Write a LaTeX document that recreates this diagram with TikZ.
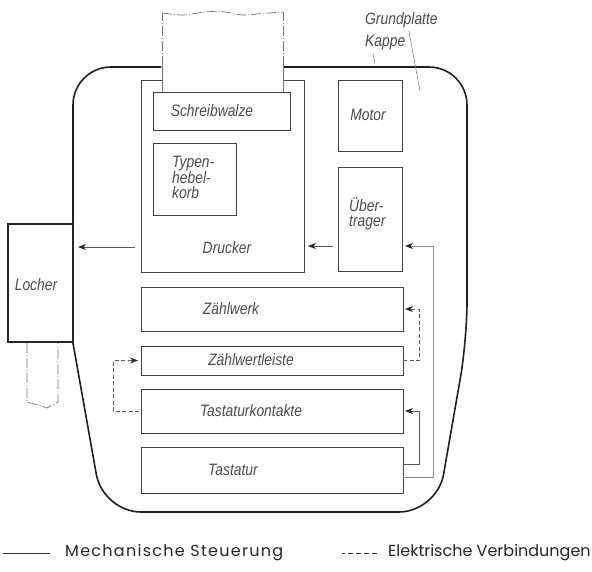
\documentclass[tikz,border=0pt]{standalone}
\usepackage{fontspec}
\setmainfont{Liberation Sans}
\newfontfamily\lblfont[FakeStretch=0.84]{Liberation Sans}
\newfontfamily\legfont{Poppins}
\newfontfamily\legfontwide[LetterSpace=8]{Poppins}
\usetikzlibrary{arrows.meta,calc}
\begin{document}
\begin{tikzpicture}[x=1pt,y=-1pt,
  box/.style={draw=black!75, line width=0.9pt, inner sep=0pt, outer sep=0pt, anchor=north west},
  lbl/.style={font=\lblfont\itshape\fontsize{16.5}{15}\selectfont, text=black!70, inner sep=0pt, align=left},
  legend/.style={font=\legfont\fontsize{16}{18}\selectfont, text=black!85, inner sep=0pt, anchor=west},
  housing/.style={draw=black!88, line width=1.6pt, rounded corners=38pt},
  mech/.style={draw=black!65, line width=0.8pt, -{Stealth[length=8pt,width=6pt,color=black!85]}},
  elec/.style={mech, dash pattern=on 4pt off 2.5pt},
  paper/.style={draw=black!55, line width=0.7pt, dash pattern=on 10pt off 2pt on 1pt off 2pt},
  leader/.style={draw=black!55, line width=0.5pt},
]
\useasboundingbox (0,0) rectangle (592,571);
\fill[white] (0,0) rectangle (592,571);

% housing (Kappe)
\draw[housing] (161,67) -- (73,67) -- (73,343);
\draw[housing] (73,343) -- (103,512) -- (437,512) -- (467,340) -- (467,67) -- (284,67);

% boxes
\node[box, minimum width=163pt, minimum height=192pt] (drucker) at (141,80) {};
\node[box, minimum width=137pt, minimum height=38pt] (walze) at (153,92) {};
\node[box, minimum width=83pt, minimum height=72pt] (korb) at (153,143) {};
\node[box, minimum width=64pt, minimum height=71pt] (motor) at (338,80) {};
\node[box, minimum width=64pt, minimum height=104pt] (uebertrager) at (338,167) {};
\node[box, line width=1.3pt, draw=black!85, minimum width=65pt, minimum height=118pt] (locher) at (8,224) {};
\node[box, minimum width=262pt, minimum height=44pt] (zaehlwerk) at (141,287) {};
\node[box, minimum width=262pt, minimum height=29pt] (zwl) at (141,346) {};
\node[box, minimum width=262pt, minimum height=44pt] (kontakte) at (141,389) {};
\node[box, minimum width=262pt, minimum height=46pt] (tastatur) at (141,447) {};

% paper above the platen
\fill[white] (162,55) rectangle (283,91.4);
\draw[black!55, line width=0.7pt] (162,91.5) -- (162,66) (283,91.5) -- (283,66);
\draw[paper] (162,66) -- (162,13) (283,66) -- (283,12);
\draw[paper] plot[smooth] coordinates {(162,13) (183,15) (205,12) (222,11.5) (243,15) (262,13.5) (283,12)};

% punch below Locher
\draw[paper] (27,343) -- (27,402) -- (40,405.5) -- (47,408) -- (58,402) -- (58,343);

% labels
\node[lbl] (tWalze) at (212,111) {Schreibwalze};
\node[lbl, anchor=north west] (tKorb) at (172,156) {Typen-\\hebel-\\korb};
\node[lbl] (tDrucker) at (227,248) {Drucker};
\node[lbl] (tMotor) at (368,115) {Motor};
\node[lbl, anchor=north west] (tUeber) at (349,197) {Über-\\trager};
\node[lbl] (tLocher) at (36,285) {Locher};
\node[lbl] (tZw) at (231,309) {Zählwerk};
\node[lbl] (tZwl) at (251,360) {Zählwertleiste};
\node[lbl] (tKont) at (251,411) {Tastaturkontakte};
\node[lbl] (tTast) at (233,470) {Tastatur};
\node[lbl, anchor=west] (tGrund) at (365,20) {Grundplatte};
\node[lbl, anchor=west] (tKappe) at (365,43) {Kappe};
\coordinate (gp) at (420,91);
\draw[leader] ($(tKappe.south west)+(8,3)$) -- ++(2,10);
\draw[leader] ($(tGrund.south east)+(-29,3)$) -- (gp);

% connectors
\draw[mech, shorten <=5pt, shorten >=4pt] ($(uebertrager.west)+(0,27)$) -- ($(drucker.east)+(0,70)$);
\draw[mech, shorten <=6pt, shorten >=5pt] ($(drucker.west)+(0,71)$) -- ($(locher.east)+(0,-36)$);
\draw[mech, draw=black!45, shorten >=3pt] ($(tastatur.east)+(0,7)$) -- ++(30,0) |- ($(uebertrager.east)+(0,27)$);
\draw[mech, shorten >=2pt] ($(tastatur.east)+(0,-6)$) -- ++(16,0) |- (kontakte.east);
\draw[elec, shorten >=2pt] (zwl.east) -- ++(16,0) |- (zaehlwerk.east);
\draw[elec, shorten <=2pt, shorten >=3pt] (kontakte.west) -- ++(-28,0) |- (zwl.west);

% legend
\node[legend, font=\legfontwide\fontsize{16}{18}\selectfont] (lm) at (65,553) {Mechanische Steuerung};
\node[legend] (le) at (388,553) {Elektrische Verbindungen};
\draw[black!80, line width=0.9pt] ($(lm.west)+(-15,0)$) -- ++(-47,0);
\draw[black!80, line width=0.9pt, dash pattern=on 5pt off 3pt] ($(le.west)+(-11,0)$) -- ++(-35,0);
\end{tikzpicture}
\end{document}
